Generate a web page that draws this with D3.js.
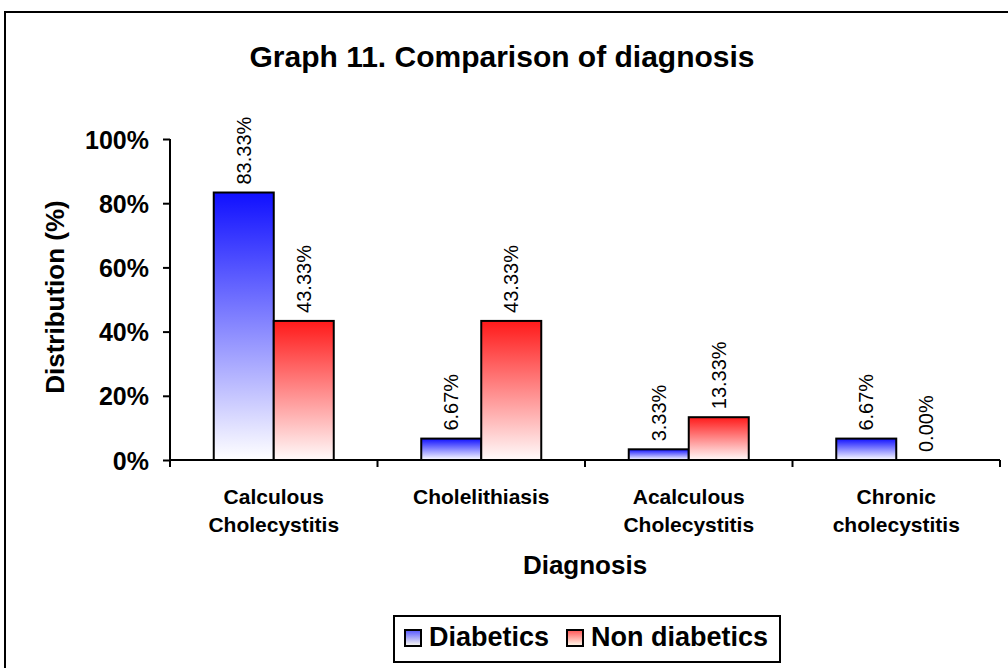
<!DOCTYPE html>
<html><head><meta charset="utf-8">
<script src="https://cdn.jsdelivr.net/npm/d3@7"></script>
<style>body{margin:0;background:#fff}svg{display:block}text{font-family:"Liberation Sans",Arial,sans-serif;fill:#000}</style>
</head><body>
<svg id="c" width="1008" height="668"></svg>
<script>
const categories = [["Calculous","Cholecystitis"],["Cholelithiasis"],["Acalculous","Cholecystitis"],["Chronic","cholecystitis"]];
const seriesNames = ["Diabetics","Non diabetics"];
const diabetics = [83.33, 6.67, 3.33, 6.67];
const nonDiabetics = [43.33, 43.33, 13.33, 0.00];
const yTicks = [0, 20, 40, 60, 80, 100];

const svg = d3.select("#c");
const defs = svg.append("defs");
function grad(id, top, bottom){
  const g = defs.append("linearGradient").attr("id", id).attr("x1",0).attr("y1",0).attr("x2",0).attr("y2",1);
  g.append("stop").attr("offset","0%").attr("stop-color",top);
  g.append("stop").attr("offset","100%").attr("stop-color",bottom);
}
grad("gb","#1010ff","#ffffff");
grad("gr","#ff1a1a","#fffafa");
grad("lgb","#5555ff","#fffff0");
grad("lgr","#ff5555","#fffff0");

// outer border
svg.append("rect").attr("x",5).attr("y",12).attr("width",1020).attr("height",680)
  .attr("fill","none").attr("stroke","#000").attr("stroke-width",2);

const L=170, R=1000, T=139, B=460;
const x = d3.scaleBand().domain(d3.range(categories.length)).range([L,R]).paddingInner(0).paddingOuter(0);
const y = d3.scaleLinear().domain([0,100]).range([B,T]);
const bw = 60;

svg.append("text").attr("x",502).attr("y",67).attr("text-anchor","middle")
  .attr("font-size",30).attr("font-weight","bold").text("Graph 11. Comparison of diagnosis");

// y axis
const ya = svg.append("g").attr("transform",`translate(${L},0)`)
  .call(d3.axisLeft(y).tickValues(yTicks).tickSize(7).tickFormat(d=>d+"%"));
ya.select(".domain").attr("stroke","#000").attr("stroke-width",2).attr("d",`M0,${T}V${B}`);
ya.selectAll(".tick line").attr("stroke","#000").attr("stroke-width",2);
ya.selectAll(".tick text").attr("font-size",25).attr("font-weight","bold").attr("x",-21).attr("dy","0.36em")
  .style("font-family","'Liberation Sans',Arial,sans-serif").attr("fill","#000");

// x axis
const xa = svg.append("g").attr("transform",`translate(0,${B})`);
xa.append("line").attr("x1",L).attr("x2",R).attr("stroke","#000").attr("stroke-width",2);
const bounds = d3.range(categories.length+1).map(i=> i<categories.length ? x(i) : x(i-1)+x.bandwidth());
xa.selectAll("line.t").data(bounds).join("line").attr("class","t")
  .attr("x1",d=>d).attr("x2",d=>d).attr("y1",0).attr("y2",7).attr("stroke","#000").attr("stroke-width",2);

// bars
const data = categories.map((c,i)=>[{s:0,v:diabetics[i],i},{s:1,v:nonDiabetics[i],i}]).flat();
const cx = i => x(i)+x.bandwidth()/2;
svg.selectAll("rect.bar").data(data.filter(d=>d.v>0)).join("rect").attr("class","bar")
  .attr("x",d=> d.s===0 ? cx(d.i)-bw : cx(d.i))
  .attr("y",d=>y(d.v)).attr("width",bw).attr("height",d=>B-y(d.v))
  .attr("fill",d=> d.s===0 ? "url(#gb)" : "url(#gr)")
  .attr("stroke","#000").attr("stroke-width",2);

// value labels
svg.selectAll("text.val").data(data).join("text").attr("class","val")
  .attr("transform",d=>{const xx = d.s===0 ? cx(d.i)-bw/2 : cx(d.i)+bw/2; return `translate(${xx+7},${y(d.v)-8}) rotate(-90)`;})
  .attr("font-size",20).attr("text-anchor","start")
  .text(d=>d.v.toFixed(2)+"%");

// category labels
categories.forEach((c,i)=>{
  const t = svg.append("text").attr("text-anchor","middle").attr("font-size",21).attr("font-weight","bold");
  c.forEach((line,k)=> t.append("tspan").attr("x",cx(i)).attr("y",504+k*28).text(line));
});

svg.append("text").attr("x",585).attr("y",574).attr("text-anchor","middle")
  .attr("font-size",26).attr("font-weight","bold").text("Diagnosis");
svg.append("text").attr("transform","translate(64,297) rotate(-90)").attr("text-anchor","middle")
  .attr("font-size",26).attr("font-weight","bold").text("Distribution (%)");

// legend
const lg = svg.append("g");
lg.append("rect").attr("x",394).attr("y",616).attr("width",386).attr("height",46)
  .attr("fill","#fff").attr("stroke","#000").attr("stroke-width",2);
const lx = [405, 567];
seriesNames.forEach((n,k)=>{
  lg.append("rect").attr("x",lx[k]).attr("y",630).attr("width",16).attr("height",16)
    .attr("fill",k===0?"url(#lgb)":"url(#lgr)").attr("stroke","#000").attr("stroke-width",2);
  lg.append("text").attr("x",lx[k]+24).attr("y",646).attr("font-size",27).attr("font-weight","bold").text(n);
});
</script>
</body></html>
